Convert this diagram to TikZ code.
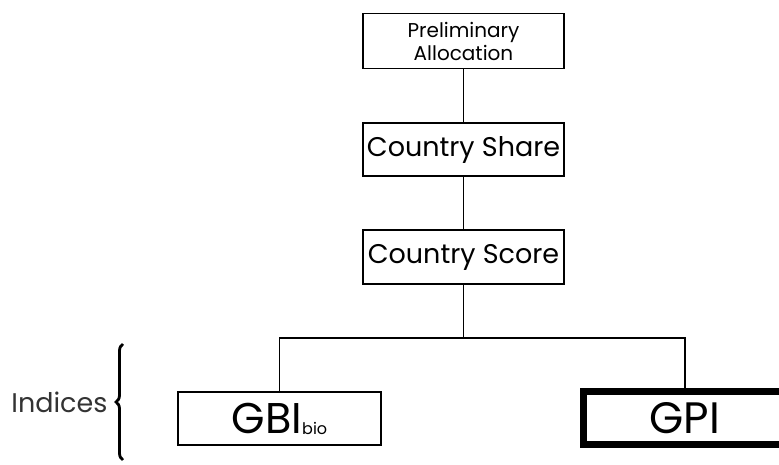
\documentclass[tikz,border=0pt]{standalone}
\usepackage{fontspec}
\setmainfont{Poppins}
\usetikzlibrary{positioning,decorations.pathreplacing}

\begin{document}
\begin{tikzpicture}[x=1pt,y=-1pt,
    box/.style={draw,line width=1.3pt,minimum width=201pt,inner sep=0pt,align=center},
    thickbox/.style={draw,line width=7pt,minimum width=203pt,minimum height=53pt,inner sep=0pt},
    link/.style={line width=1.5pt}]

  \clip (0,0) rectangle (779,465);

  \node[box,minimum height=55pt,font=\fontsize{20}{23}\selectfont] (prelim) at (463.5,41) {Preliminary\\Allocation};
  \node[box,minimum height=53pt,font=\fontsize{27}{29}\selectfont] (share) at (463.5,149.5) {Country Share};
  \node[box,minimum height=54pt,font=\fontsize{27}{29}\selectfont] (score) at (463.5,257) {Country Score};

  \node[box,minimum width=203pt,minimum height=53pt,font=\fontsize{43}{45}\selectfont] (gbi) at (279.5,418.5) {GBI\raisebox{-1pt}{\fontsize{16}{18}\selectfont bio}};
  \node[thickbox,font=\fontsize{44}{46}\selectfont] (gpi) at (685,418) {GPI};

  \coordinate (split) at (463.5,338);

  \draw[link] (prelim) -- (share);
  \draw[link] (share) -- (score);
  \draw[link] (score) -- (split);
  \draw[link] (split) -| (gbi.north);
  \draw[link] (split) -| (gpi.north);

  % brace for the two indices
  \draw[line width=2.8pt,decorate,decoration={brace,amplitude=7pt}] (123,460) -- (123,344);
  \node[anchor=east,font=\fontsize{27}{29}\selectfont,text=black!80] (indices) at (111,402) {Indices};

\end{tikzpicture}
\end{document}
